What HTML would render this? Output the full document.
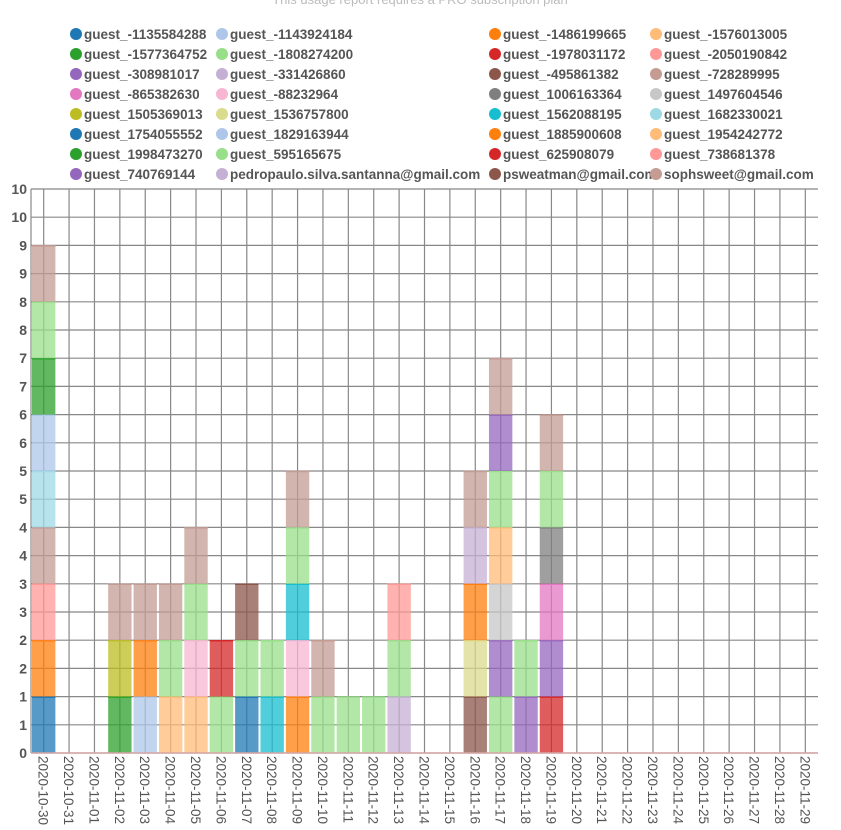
<!DOCTYPE html>
<html><head><meta charset="utf-8">
<style>
html,body{margin:0;padding:0;background:#fff;}
svg{display:block;font-family:"Liberation Sans",sans-serif;}
</style></head>
<body>
<svg id="chart" width="841" height="830" viewBox="0 0 841 830" xmlns="http://www.w3.org/2000/svg">
<text x="420" y="4" text-anchor="middle" font-size="13" fill="#bbb">This usage report requires a PRO subscription plan</text>
<g id="legend"></g>
<g id="grid"></g>
<g id="bars"></g>
<g id="axes"></g>
</svg>
<script>
const seriesNames = ["guest_-1135584288","guest_-1143924184","guest_-1486199665","guest_-1576013005","guest_-1577364752","guest_-1808274200","guest_-1978031172","guest_-2050190842","guest_-308981017","guest_-331426860","guest_-495861382","guest_-728289995","guest_-865382630","guest_-88232964","guest_1006163364","guest_1497604546","guest_1505369013","guest_1536757800","guest_1562088195","guest_1682330021","guest_1754055552","guest_1829163944","guest_1885900608","guest_1954242772","guest_1998473270","guest_595165675","guest_625908079","guest_738681378","guest_740769144","pedropaulo.silva.santanna@gmail.com","psweatman@gmail.com","sophsweet@gmail.com"];
const palette = ["#1f77b4","#aec7e8","#ff7f0e","#ffbb78","#2ca02c","#98df8a","#d62728","#ff9896","#9467bd","#c5b0d5","#8c564b","#c49c94","#e377c2","#f7b6d2","#7f7f7f","#c7c7c7","#bcbd22","#dbdb8d","#17becf","#9edae5"];
const dates = ["2020-10-30","2020-10-31","2020-11-01","2020-11-02","2020-11-03","2020-11-04","2020-11-05","2020-11-06","2020-11-07","2020-11-08","2020-11-09","2020-11-10","2020-11-11","2020-11-12","2020-11-13","2020-11-14","2020-11-15","2020-11-16","2020-11-17","2020-11-18","2020-11-19","2020-11-20","2020-11-21","2020-11-22","2020-11-23","2020-11-24","2020-11-25","2020-11-26","2020-11-27","2020-11-28","2020-11-29"];
// per-day stacked series indices (bottom to top)
const stackSeries = [[0,2,7,11,19,1,4,5,31],[],[],[24,16,31],[21,22,31],[3,25,31],[23,13,25,31],[5,6],[20,25,30],[18,25],[2,13,18,25,31],[25,31],[25],[5],[29,25,27],[],[],[10,17,22,9,31],[5,8,15,3,25,28,31],[28,25],[26,8,12,14,25,11],[],[],[],[],[],[],[],[],[],[]];
const stackValues = [[1,1,1,1,1,1,1,1,1],[],[],[1,1,1],[1,1,1],[1,1,1],[1,1,1,1],[1,1],[1,1,1],[1,1],[1,1,1,1,1],[1,1],[1],[1],[1,1,1],[],[],[1,1,1,1,1],[1,1,1,1,1,1,1],[1,1],[1,1,1,1,1,1],[],[],[],[],[],[],[],[],[],[]];
const yTicks = [0,0.5,1,1.5,2,2.5,3,3.5,4,4.5,5,5.5,6,6.5,7,7.5,8,8.5,9,9.5,10];
const yMax = 10;

const NS = "http://www.w3.org/2000/svg";
const L = 31, R = 818, T = 189, B = 753;
const band = (R - L) / dates.length;
const xPos = i => L + i * band;
const yPos = v => B - (v / yMax) * (B - T);
function mk(tag, attrs, parent){const e=document.createElementNS(NS,tag);for(const k in attrs)e.setAttribute(k,attrs[k]);parent.appendChild(e);return e;}

// legend
const lg = document.getElementById('legend');
const colX = [76, 222, 495, 656];
seriesNames.forEach((n,i)=>{
  const row = Math.floor(i/4), col = i%4;
  const cy = 34 + row*20;
  const g = mk('g',{},lg);
  
  
  mk('circle',{cx:colX[col],cy:cy,r:6,fill:palette[i%20]},g);
  const t = mk('text',{x:colX[col]+8,y:cy+5,'font-size':13.5,'font-weight':'bold',fill:'#555'},g);
  t.textContent = n;
});

// grid
const gg = document.getElementById('grid');
yTicks.forEach(v=>{
  const l = mk('line',{x1:L,x2:R,y1:yPos(v),y2:yPos(v),stroke:'#888','stroke-width':1.2},gg);
  
  
});
dates.forEach((d,i)=>{
  const cx = xPos(i)+band/2;
  const l = mk('line',{x1:cx,x2:cx,y1:T,y2:B,stroke:'#888','stroke-width':1.2},gg);
  
  
});
mk('line',{x1:L,x2:L,y1:T,y2:B,stroke:'#888','stroke-width':1.2},gg);

// bars
const bg = document.getElementById('bars');
dates.forEach((d,i)=>{
  let acc = 0;
  stackSeries[i].forEach((s,j)=>{
    const v = stackValues[i][j];
    const y0 = yPos(acc), y1 = yPos(acc+v);
    const c = palette[s%20];
    const r = mk('rect',{x:xPos(i)+1,y:y1,width:band-2,height:y0-y1,fill:c,'fill-opacity':0.75},bg);
    
    
    mk('line',{x1:xPos(i)+1,x2:xPos(i)+band-1,y1:y1+0.5,y2:y1+0.5,stroke:c,'stroke-width':1.5},bg);
    acc += v;
  });
});
mk('line',{x1:L,x2:R,y1:B,y2:B,stroke:'#d8a8a8','stroke-width':1.5},bg);

// axes labels
const ax = document.getElementById('axes');
yTicks.forEach(v=>{
  const t = mk('text',{x:27,y:yPos(v)+5,'text-anchor':'end','font-size':14,'font-weight':'bold',fill:'#555'},ax);
  
  
  t.textContent = String(Math.round(v));
});
dates.forEach((d,i)=>{
  const cx = xPos(i)+band/2 - 5;
  const t = mk('text',{x:0,y:0,'font-size':13.5,fill:'#555',transform:`translate(${cx},756) rotate(90)`},ax);
  
  
  t.textContent = d;
});
</script>
</body></html>
